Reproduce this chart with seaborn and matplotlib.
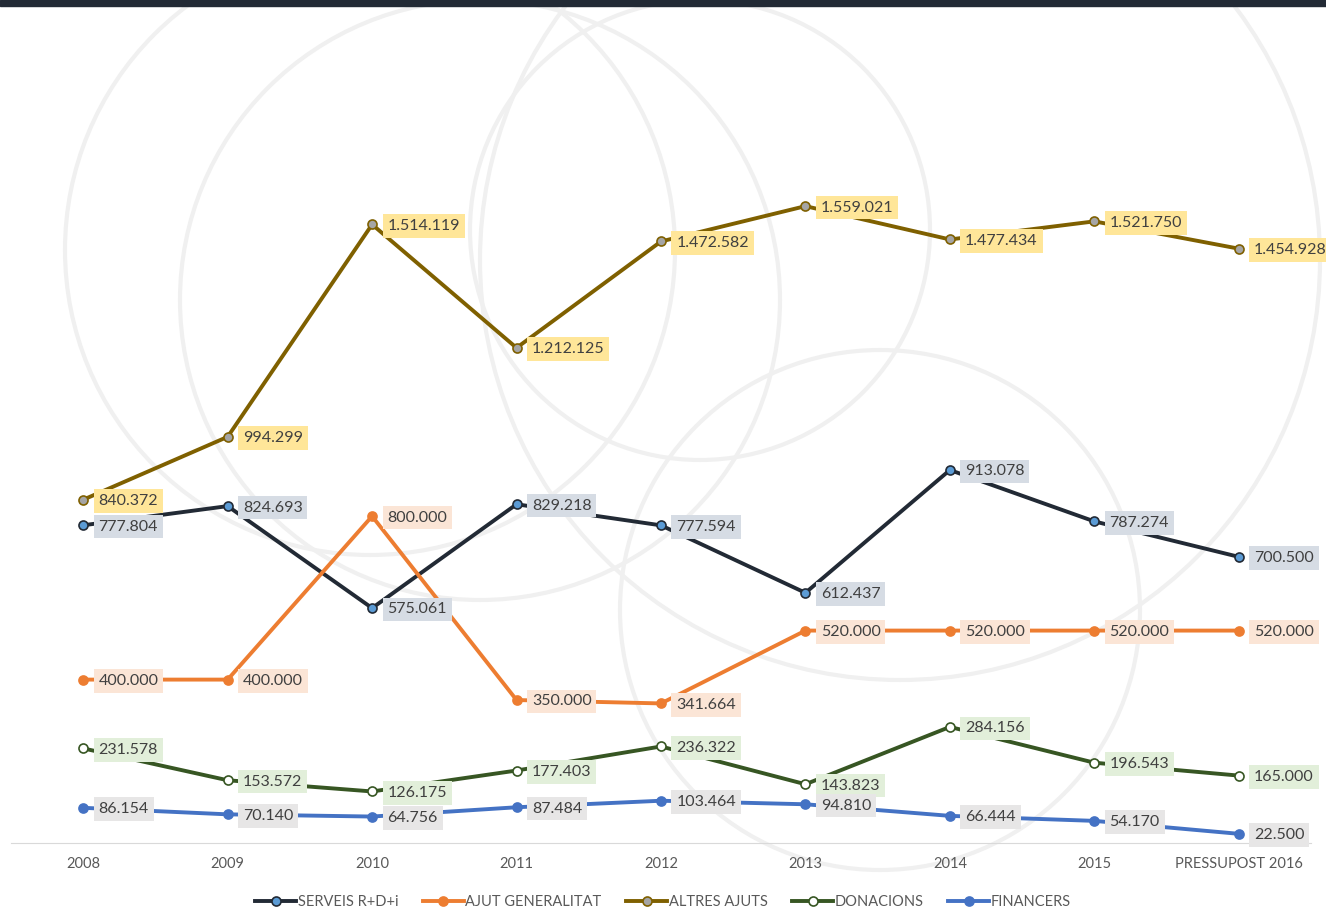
import seaborn as sns
import pandas as pd
import matplotlib.pyplot as plt
from matplotlib.lines import Line2D
from matplotlib.patches import Rectangle, Ellipse

years = ["2008", "2009", "2010", "2011", "2012", "2013", "2014", "2015", "PRESSUPOST 2016"]

serveis = [777804, 824693, 575061, 829218, 777594, 612437, 913078, 787274, 700500]
ajut_generalitat = [400000, 400000, 800000, 350000, 341664, 520000, 520000, 520000, 520000]
altres_ajuts = [840372, 994299, 1514119, 1212125, 1472582, 1559021, 1477434, 1521750, 1454928]
donacions = [231578, 153572, 126175, 177403, 236322, 143823, 284156, 196543, 165000]
financers = [86154, 70140, 64756, 87484, 103464, 94810, 66444, 54170, 22500]

# name, values, line colour, marker face, label box colour
series = [
    ("SERVEIS R+D+i", serveis, "#222a35", "#5b9bd5", "#d6dce4"),
    ("AJUT GENERALITAT", ajut_generalitat, "#ed7d31", "#ed7d31", "#fbe5d6"),
    ("ALTRES AJUTS", altres_ajuts, "#7f6000", "#a5a5a5", "#ffe699"),
    ("DONACIONS", donacions, "#375623", "#ffffff", "#e2efda"),
    ("FINANCERS", financers, "#4472c4", "#4472c4", "#e7e6e6"),
]

plt.rcParams['font.family'] = ['Lato', 'DejaVu Sans']

fig = plt.figure(figsize=(13.26, 9.07), dpi=100)
W, H = 1326, 907

# faint watermark rings, behind everything
for cx, cy, r in [(370, 250, 305), (480, 300, 300), (900, 260, 420), (700, 230, 230), (880, 610, 260)]:
    fig.patches.append(Ellipse((cx / W, 1 - cy / H), 2 * r / W, 2 * r / H, transform=fig.transFigure,
                               fill=False, ec="#f0f0f0", lw=3, zorder=-1))

# dark top bar
fig.patches.append(Rectangle((0, 1 - 6 / H), 1, 6 / H, transform=fig.transFigure,
                             color="#222a35", zorder=5))

ax = fig.add_axes([11 / W, (H - 843) / H, 1300 / W, (843 - 10) / H])
ax.patch.set_alpha(0)

for name, vals, lc, mf, bc in series:
    df = pd.DataFrame({"year": years, "value": vals})
    sns.lineplot(data=df, x="year", y="value", sort=False, ax=ax, color=lc, lw=2.8,
                 marker="o", markersize=6.5, markerfacecolor=mf, markeredgecolor=lc,
                 markeredgewidth=1.2, zorder=3)
    for i, v in enumerate(vals):
        ax.annotate(f"{v:,}".replace(",", "."), (i, v), xytext=(11, -1), textcoords="offset points",
                    ha="left", va="center", fontsize=11.5, color="#404040", zorder=4,
                    annotation_clip=False,
                    bbox=dict(boxstyle="square,pad=0.3", fc=bc, ec="none"))

ax.set_xlim(-0.5, 8.5)
ax.set_ylim(0, 833 / 0.0004085)
ax.set_xlabel("")
ax.set_ylabel("")
ax.set_yticks([])
for s in ["top", "right", "left"]:
    ax.spines[s].set_visible(False)
ax.spines["bottom"].set_color("#d9d9d9")
ax.tick_params(axis="x", length=0, pad=10, labelsize=10.5, labelcolor="#595959")

handles = [Line2D([], [], color=lc, lw=2.8, marker="o", markersize=6.5, markerfacecolor=mf,
                  markeredgecolor=lc, markeredgewidth=1.2) for _, _, lc, mf, _ in series]
fig.legend(handles, [s[0] for s in series], loc="center", bbox_to_anchor=(0.5, 1 - 902 / H),
           ncol=5, frameon=False, fontsize=10.5, labelcolor="#595959", handlelength=2.8,
           handletextpad=0.1, columnspacing=1.7)

fig.savefig("out.png", dpi=100)
